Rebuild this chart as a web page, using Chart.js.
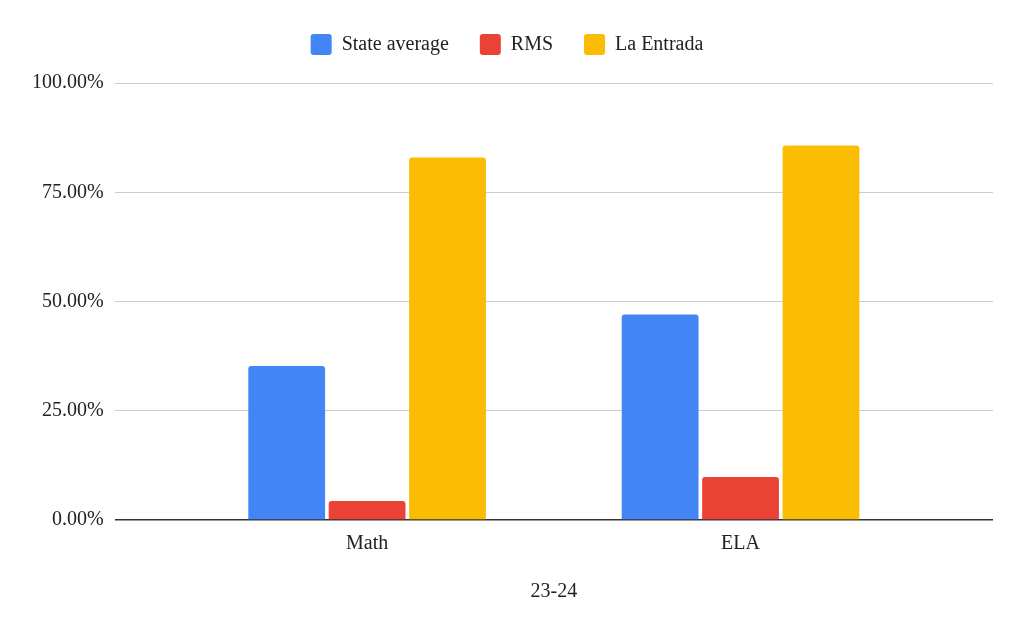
<!DOCTYPE html>
<html>
<head>
<meta charset="utf-8">
<script src="https://cdn.jsdelivr.net/npm/chart.js@4/dist/chart.umd.min.js"></script>
<style>
  html, body { margin: 0; padding: 0; background: #fff; }
  #wrap { width: 1024px; height: 632px; }
</style>
</head>
<body>
<div id="wrap"><canvas id="scoresChart" width="1024" height="632"></canvas></div>
<script>
// values, in percent
const categories = ['Math', 'ELA'];
const stateAverage = [35.25, 47.0];
const rms = [4.36, 9.86];
const laEntrada = [82.96, 85.7];
const yTicks = [0, 25, 50, 75, 100];
const xTitle = '23-24';

const serif = '"Liberation Serif", "Times New Roman", serif';
const textColor = '#222';

const toPoints = (vals) => vals.map((v, i) => ({ x: i, y: v }));

// a bit of extra room under the legend
const legendGap = {
    id: 'legendGap',
    beforeInit(chart) {
        const origFit = chart.legend.fit;
        chart.legend.fit = function () {
            origFit.bind(this)();
            this.height += 18;
        };
    },
};

const ctx = document.getElementById('scoresChart').getContext('2d');
const chart = new Chart(ctx, {
    type: 'bar',
    data: {
        datasets: [
            { label: 'State average', data: toPoints(stateAverage), backgroundColor: '#4285F4' },
            { label: 'RMS', data: toPoints(rms), backgroundColor: '#EA4335' },
            { label: 'La Entrada', data: toPoints(laEntrada), backgroundColor: '#FBBC04' },
        ],
    },
    plugins: [legendGap],
    options: {
        responsive: false,
        animation: false,
        categoryPercentage: 0.646,
        barPercentage: 0.955,
        datasets: {
            bar: { borderRadius: { topLeft: 3, topRight: 3 }, borderSkipped: 'bottom' },
        },
        layout: { padding: { top: 3, left: 21, right: 31, bottom: 28 } },
        plugins: {
            legend: {
                position: 'top',
                labels: {
                    color: textColor,
                    font: { family: serif, size: 20 },
                    boxWidth: 21,
                    boxHeight: 21,
                    useBorderRadius: true,
                    borderRadius: 3,
                    padding: 31,
                },
            },
            tooltip: { enabled: false },
        },
        scales: {
            x: {
                type: 'linear',
                offset: false,
                min: -0.676,
                max: 1.676,
                grid: { display: false },
                border: { display: false },
                afterBuildTicks: (scale) => {
                    scale.ticks = categories.map((c, i) => ({ value: i }));
                },
                ticks: {
                    color: textColor,
                    font: { family: serif, size: 20 },
                    padding: 4,
                    maxRotation: 0,
                    callback: (v) => categories[v],
                },
                title: {
                    display: true,
                    text: xTitle,
                    color: textColor,
                    font: { family: serif, size: 20 },
                    padding: { top: 20, bottom: 0 },
                },
            },
            y: {
                min: 0,
                max: 100,
                afterBuildTicks: (scale) => {
                    scale.ticks = yTicks.map((v) => ({ value: v }));
                },
                grid: {
                    drawTicks: false,
                    color: (c) => (c.tick && c.tick.value === 0 ? '#333' : '#ccc'),
                    lineWidth: (c) => (c.tick && c.tick.value === 0 ? 1.5 : 1),
                },
                border: { display: false },
                ticks: {
                    color: textColor,
                    font: { family: serif, size: 20 },
                    padding: 11,
                    callback: (v) => v.toFixed(2) + '%',
                },
            },
        },
    },
});
</script>
</body>
</html>
